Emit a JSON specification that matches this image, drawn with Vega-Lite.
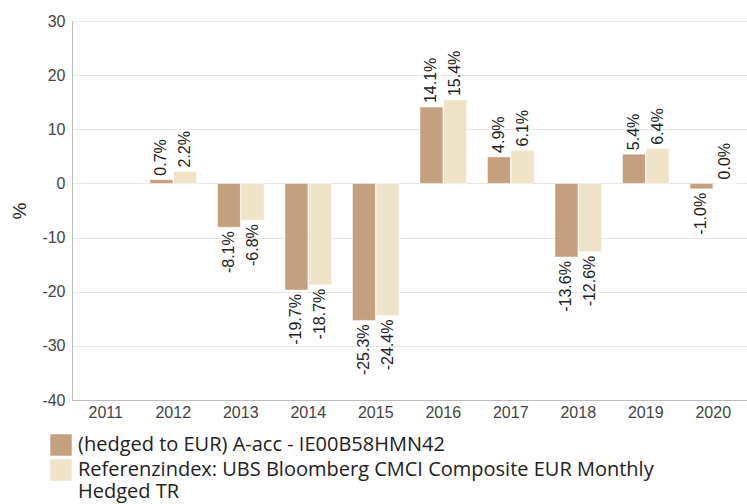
{
  "$schema": "https://vega.github.io/schema/vega-lite/v6.json",
  "width": 675,
  "height": 379,
  "autosize": {"type": "none"},
  "padding": {"left": 72, "top": 21, "right": 0, "bottom": 104},
  "background": "white",
  "config": {
    "view": {"stroke": null},
    "font": "Liberation Sans"
  },
  "data": {
    "values": [
      {"year": "2012", "series": "(hedged to EUR) A-acc - IE00B58HMN42", "value": 0.7},
      {"year": "2012", "series": "Referenzindex", "value": 2.2},
      {"year": "2013", "series": "(hedged to EUR) A-acc - IE00B58HMN42", "value": -8.1},
      {"year": "2013", "series": "Referenzindex", "value": -6.8},
      {"year": "2014", "series": "(hedged to EUR) A-acc - IE00B58HMN42", "value": -19.7},
      {"year": "2014", "series": "Referenzindex", "value": -18.7},
      {"year": "2015", "series": "(hedged to EUR) A-acc - IE00B58HMN42", "value": -25.3},
      {"year": "2015", "series": "Referenzindex", "value": -24.4},
      {"year": "2016", "series": "(hedged to EUR) A-acc - IE00B58HMN42", "value": 14.1},
      {"year": "2016", "series": "Referenzindex", "value": 15.4},
      {"year": "2017", "series": "(hedged to EUR) A-acc - IE00B58HMN42", "value": 4.9},
      {"year": "2017", "series": "Referenzindex", "value": 6.1},
      {"year": "2018", "series": "(hedged to EUR) A-acc - IE00B58HMN42", "value": -13.6},
      {"year": "2018", "series": "Referenzindex", "value": -12.6},
      {"year": "2019", "series": "(hedged to EUR) A-acc - IE00B58HMN42", "value": 5.4},
      {"year": "2019", "series": "Referenzindex", "value": 6.4},
      {"year": "2020", "series": "(hedged to EUR) A-acc - IE00B58HMN42", "value": -1.0},
      {"year": "2020", "series": "Referenzindex", "value": 0.0}
    ]
  },
  "transform": [
    {"calculate": "(datum.value < 0 ? '-' : '') + format(abs(datum.value), '.1f') + '%'", "as": "label"}
  ],
  "encoding": {
    "x": {
      "field": "year",
      "type": "nominal",
      "scale": {
        "domain": ["2011","2012","2013","2014","2015","2016","2017","2018","2019","2020"],
        "paddingInner": 0.31,
        "paddingOuter": 0.155
      },
      "axis": {
        "title": null,
        "labelAngle": 0,
        "labelFontSize": 16,
        "labelColor": "#444",
        "labelPadding": 4,
        "ticks": false,
        "domainColor": "#bbb"
      }
    },
    "xOffset": {
      "field": "series",
      "type": "nominal",
      "scale": {"paddingInner": 0.03}
    },
    "y": {
      "field": "value",
      "type": "quantitative",
      "scale": {"domain": [-40, 30], "nice": false},
      "axis": {
        "title": "%",
        "titleFontSize": 19,
        "titleFontWeight": "normal",
        "titleColor": "#222",
        "titlePadding": 12,
        "values": [-40, -30, -20, -10, 0, 10, 20, 30],
        "labelExpr": "(datum.value < 0 ? '-' : '') + abs(datum.value)",
        "labelFontSize": 16,
        "labelColor": "#444",
        "labelPadding": 7,
        "ticks": false,
        "domainColor": "#bbb",
        "gridColor": "#e6e6e6"
      }
    }
  },
  "layer": [
    {
      "mark": {"type": "bar", "stroke": "white", "strokeWidth": 0.5},
      "encoding": {
        "color": {
          "field": "series",
          "type": "nominal",
          "scale": {
            "domain": ["(hedged to EUR) A-acc - IE00B58HMN42", "Referenzindex"],
            "range": ["#c4a07f", "#efe3c8"]
          },
          "legend": {
            "title": null,
            "orient": "none",
            "legendX": -22,
            "legendY": 413,
            "direction": "vertical",
            "symbolType": "square",
            "symbolSize": 460,
            "symbolStrokeWidth": 0,
            "labelFontSize": 20,
            "labelFont": "Open Sans",
            "labelColor": "#222",
            "labelLimit": 720,
            "rowPadding": 3,
            "labelOffset": 6,
            "labelExpr": "datum.label == 'Referenzindex' ? ['Referenzindex: UBS Bloomberg CMCI Composite EUR Monthly', 'Hedged TR'] : datum.label"
          }
        }
      }
    },
    {
      "transform": [{"filter": "datum.value >= 0"}],
      "mark": {"type": "text", "angle": -90, "align": "left", "baseline": "middle", "dx": 4, "fontSize": 16, "color": "#222"},
      "encoding": {"text": {"field": "label"}}
    },
    {
      "transform": [{"filter": "datum.value < 0"}],
      "mark": {"type": "text", "angle": -90, "align": "right", "baseline": "middle", "dx": -4, "fontSize": 16, "color": "#222"},
      "encoding": {"text": {"field": "label"}}
    }
  ]
}
